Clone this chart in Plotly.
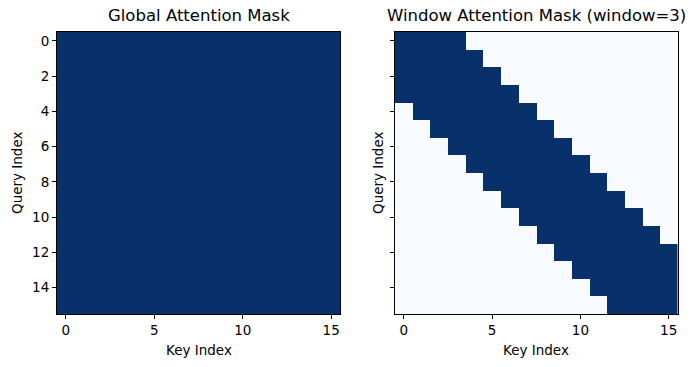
import plotly.graph_objects as go

n_keys = list(range(16))
n_queries = list(range(16))

global_mask = [[1] * 16 for _ in range(16)]

window_mask = [
    [1,1,1,1,0,0,0,0,0,0,0,0,0,0,0,0],
    [1,1,1,1,1,0,0,0,0,0,0,0,0,0,0,0],
    [1,1,1,1,1,1,0,0,0,0,0,0,0,0,0,0],
    [1,1,1,1,1,1,1,0,0,0,0,0,0,0,0,0],
    [0,1,1,1,1,1,1,1,0,0,0,0,0,0,0,0],
    [0,0,1,1,1,1,1,1,1,0,0,0,0,0,0,0],
    [0,0,0,1,1,1,1,1,1,1,0,0,0,0,0,0],
    [0,0,0,0,1,1,1,1,1,1,1,0,0,0,0,0],
    [0,0,0,0,0,1,1,1,1,1,1,1,0,0,0,0],
    [0,0,0,0,0,0,1,1,1,1,1,1,1,0,0,0],
    [0,0,0,0,0,0,0,1,1,1,1,1,1,1,0,0],
    [0,0,0,0,0,0,0,0,1,1,1,1,1,1,1,0],
    [0,0,0,0,0,0,0,0,0,1,1,1,1,1,1,1],
    [0,0,0,0,0,0,0,0,0,0,1,1,1,1,1,1],
    [0,0,0,0,0,0,0,0,0,0,0,1,1,1,1,1],
    [0,0,0,0,0,0,0,0,0,0,0,0,1,1,1,1],
]

x_ticks = [0, 5, 10, 15]
y_ticks = [0, 2, 4, 6, 8, 10, 12, 14]

titles = ["Global Attention Mask", "Window Attention Mask (window=3)"]

W, H = 696, 367
colorscale = [[0, "#f7fbff"], [1, "#08306b"]]
font = "DejaVu Sans"

fig = go.Figure()
fig.add_trace(go.Heatmap(z=global_mask, x=n_keys, y=n_queries, zmin=0, zmax=1,
                         colorscale=colorscale, showscale=False, xaxis="x", yaxis="y",
                         hoverinfo="skip"))
fig.add_trace(go.Heatmap(z=window_mask, x=n_keys, y=n_queries, zmin=0, zmax=1,
                         colorscale=colorscale, showscale=False, xaxis="x2", yaxis="y2",
                         hoverinfo="skip"))

L = [(57, 340), (395, 677.5)]
top, bot = 32, 314
yd = [1 - bot / H, 1 - top / H]

axcommon = dict(showline=True, mirror=True, linecolor="black", linewidth=1,
                ticks="outside", ticklen=4, tickcolor="black", tickwidth=1,
                showgrid=False, zeroline=False,
                tickfont=dict(family=font, size=13.5, color="black"))

fig.update_layout(
    width=W, height=H, margin=dict(l=0, r=0, t=0, b=0),
    paper_bgcolor="white", plot_bgcolor="white",
    xaxis=dict(domain=[L[0][0] / W, L[0][1] / W], range=[-0.5, 15.5],
               tickvals=x_ticks, anchor="y", **axcommon),
    yaxis=dict(domain=yd, range=[15.5, -0.5], tickvals=y_ticks, anchor="x", **axcommon),
    xaxis2=dict(domain=[L[1][0] / W, L[1][1] / W], range=[-0.5, 15.5],
                tickvals=x_ticks, anchor="y2", **axcommon),
    yaxis2=dict(domain=yd, range=[15.5, -0.5], tickvals=y_ticks, showticklabels=False,
                anchor="x2", **axcommon),
)

ann = []
for i, (x0, x1) in enumerate(L):
    cx = (x0 + x1) / 2 / W
    ann.append(dict(text=titles[i], x=cx, y=1 - 15 / H, xref="paper", yref="paper",
                    showarrow=False, font=dict(family=font, size=16.5, color="black"),
                    xanchor="center", yanchor="middle"))
    ann.append(dict(text="Key Index", x=cx, y=1 - 350 / H, xref="paper", yref="paper",
                    showarrow=False, font=dict(family=font, size=13.5, color="black"),
                    xanchor="center", yanchor="middle"))
qx = [17, 378]
for i in range(2):
    ann.append(dict(text="Query Index", x=qx[i] / W, y=1 - 173 / H, xref="paper", yref="paper",
                    showarrow=False, textangle=-90,
                    font=dict(family=font, size=13.5, color="black"),
                    xanchor="center", yanchor="middle"))
fig.update_layout(annotations=ann)

fig.write_html("out.html", config={"displayModeBar": False},
               post_script="document.body.style.margin='0';document.body.style.overflow='hidden';")
